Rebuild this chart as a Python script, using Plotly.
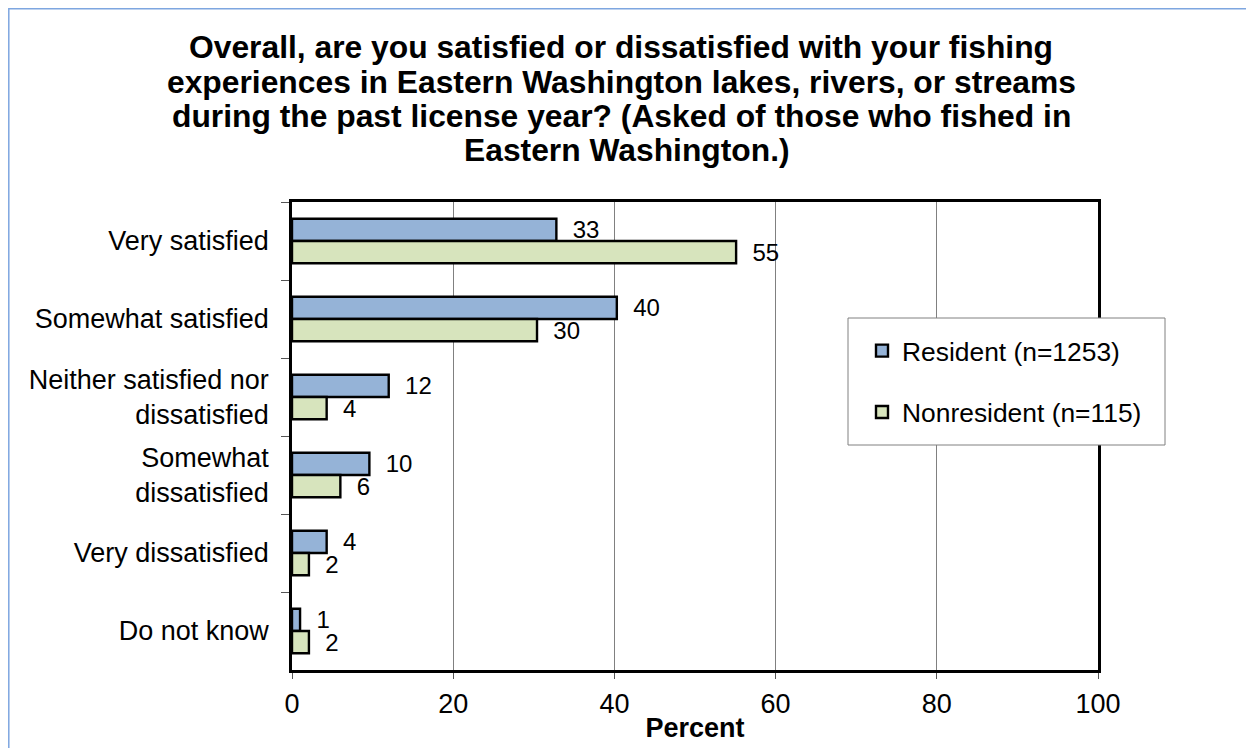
import plotly.graph_objects as go

categories = ["Very satisfied", "Somewhat satisfied", "Neither satisfied nor<br>dissatisfied",
              "Somewhat<br>dissatisfied", "Very dissatisfied", "Do not know"]
resident = [32.8, 40.3, 12.0, 9.6, 4.3, 1.0]
nonresident = [55.1, 30.4, 4.3, 6.0, 2.1, 2.1]
resident_labels = ["33", "40", "12", "10", "4", "1"]
nonresident_labels = ["55", "30", "4", "6", "2", "2"]
series_names = ["Resident (n=1253)", "Nonresident (n=115)"]
title_lines = ["Overall, are you satisfied or dissatisfied with your fishing",
               "experiences in Eastern Washington lakes, rivers, or streams",
               "during the past license year? (Asked of those who fished in",
               "Eastern Washington.)"]
x_ticks = [0, 20, 40, 60, 80, 100]

W, H = 1254, 748
# plot area in figure pixels
L, R, T, B = 284, 1090, 194, 662
FONT = "Liberation Sans, Arial, sans-serif"


def px(p):
    """figure-pixel x -> paper"""
    return (p - L) / (R - L)


def py(p):
    """figure-pixel y -> paper"""
    return (B - p) / (B - T)


NBSP = "\u00a0\u00a0"

fig = go.Figure()
fig.add_trace(go.Bar(
    y=categories, x=resident, orientation="h", name=series_names[0],
    marker=dict(color="#95B3D7", line=dict(color="black", width=2.4)),
    text=[NBSP + t for t in resident_labels], textposition="outside",
    textfont=dict(family=FONT, size=24, color="black"), constraintext="none",
    cliponaxis=False, legendgroup="a"))
fig.add_trace(go.Bar(
    y=categories, x=nonresident, orientation="h", name=series_names[1],
    marker=dict(color="#D7E4BD", line=dict(color="black", width=2.4)),
    text=[NBSP + t for t in nonresident_labels], textposition="outside",
    textfont=dict(family=FONT, size=24, color="black"), constraintext="none",
    cliponaxis=False, legendgroup="b"))

shapes = [
    # outer chart border
    dict(type="rect", xref="paper", yref="paper", x0=px(0.8), x1=px(1400), y0=py(900), y1=py(0.8),
         line=dict(color="#7EA6E0", width=1.5), fillcolor="rgba(0,0,0,0)", layer="below"),
    # legend box
    dict(type="rect", xref="paper", yref="paper", x0=px(840), x1=px(1157), y0=py(437), y1=py(310),
         line=dict(color="#808080", width=1), fillcolor="white", layer="above"),
]

annotations = []
title_y = [39, 74, 108, 142]
title_x = [613, 613, 613, 619]
for line, xx, yy in zip(title_lines, title_x, title_y):
    annotations.append(dict(text="<b>" + line + "</b>", xref="paper", yref="paper",
                            x=px(xx), y=py(yy), xanchor="center", yanchor="middle",
                            showarrow=False, font=dict(family=FONT, size=31.8, color="black")))

fig.update_layout(
    width=W, height=H,
    margin=dict(l=L, r=W - R, t=T, b=H - B, pad=0),
    paper_bgcolor="white", plot_bgcolor="white",
    barmode="group", bargap=0.43, bargroupgap=0,
    font=dict(family=FONT, size=27, color="black"),
    shapes=shapes, annotations=annotations,
    showlegend=True,
    legend=dict(x=px(854), y=py(319), xanchor="left", yanchor="top",
                bgcolor="rgba(0,0,0,0)", borderwidth=0,
                font=dict(family=FONT, size=26.4, color="black"),
                traceorder="grouped", tracegroupgap=24),
    xaxis=dict(range=[0, 100], tickvals=x_ticks, ticks="outside", ticklen=6, tickcolor="#555555",
               showgrid=True, gridcolor="#808080", gridwidth=1,
               showline=True, linecolor="black", linewidth=2.5, mirror=True,
               zeroline=False, tickfont=dict(family=FONT, size=27, color="black"),
               ticklabelstandoff=2,
               title=dict(text="<b>Percent</b>", font=dict(family=FONT, size=27, color="black"),
                          standoff=0)),
    yaxis=dict(autorange="reversed", ticks="outside", ticklen=8, tickcolor="#555555",
               tickson="boundaries", showline=True, linecolor="black", linewidth=2.5,
               mirror=True, showgrid=False, tickfont=dict(family=FONT, size=27, color="black"),
               ticklabelstandoff=15),
)

fig.write_html("out.html")
